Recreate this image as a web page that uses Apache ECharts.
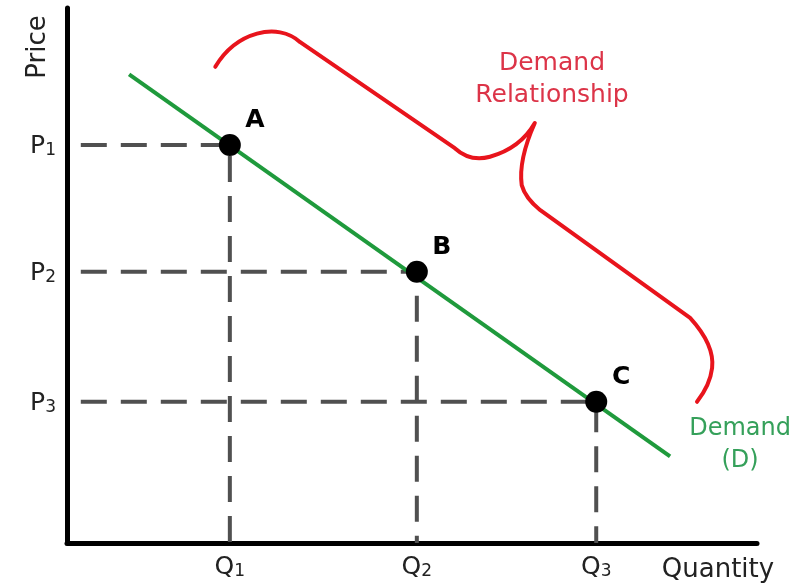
<!DOCTYPE html>
<html>
<head>
<meta charset="utf-8">
<script src="https://cdn.jsdelivr.net/npm/echarts@6/dist/echarts.min.js"></script>
<style>
  html, body { margin: 0; padding: 0; background: #fff; }
  #chart { width: 810px; height: 587px; }
</style>
</head>
<body>
<div id="chart"></div>
<script>
// 数据
const qNames = ['1', '2', '3'];
const qValues = [2.36, 5.07, 7.67];
const pNames = ['1', '2', '3'];
const pValues = [7.44, 5.07, 2.64];
const pointNames = ['A', 'B', 'C'];
const demandStart = [0.9, 8.76];
const demandEnd = [8.74, 1.62];

// 大括号 (数据坐标)
const brace = [
  ['M', 2.15, 8.90],
  ['C', 2.45, 9.55, 3.05, 9.75, 3.38, 9.36],
  ['L', 5.62, 7.38],
  ['Q', 5.84, 7.12, 6.13, 7.22],
  ['Q', 6.57, 7.38, 6.78, 7.85],
  ['Q', 6.54, 7.16, 6.59, 6.69],
  ['Q', 6.64, 6.45, 6.86, 6.22],
  ['L', 9.03, 4.21],
  ['Q', 9.39, 3.70, 9.35, 3.27],
  ['Q', 9.32, 2.95, 9.13, 2.64]
];

const font = 'DejaVu Sans';
const chart = echarts.init(document.getElementById('chart'));

const subRich = {
  m: { fontFamily: font, fontSize: 25, color: '#222', verticalAlign: 'bottom', lineHeight: 28 },
  s: { fontFamily: font, fontSize: 17, color: '#222', verticalAlign: 'bottom', lineHeight: 23 }
};

const guideSeries = qValues.map(function (q, i) {
  return {
    type: 'line',
    data: [[0.2, pValues[i]], [q, pValues[i]], [q, 0]],
    symbol: 'none',
    silent: true,
    lineStyle: { color: '#505050', width: 4, type: [26, 14] },
    z: 2
  };
});

const option = {
  animation: false,
  grid: { left: 67, right: 53, top: 8, bottom: 44, containLabel: false, outerBoundsMode: 'none' },
  xAxis: {
    type: 'value', min: 0, max: 10,
    splitLine: { show: false },
    axisTick: { show: false },
    axisLine: { lineStyle: { color: '#000', width: 5 } },
    axisLabel: {
      customValues: qValues,
      margin: 9,
      formatter: function (v) { return '{m|Q}{s|' + qNames[qValues.indexOf(v)] + '}'; },
      rich: subRich
    }
  },
  yAxis: {
    type: 'value', min: 0, max: 10,
    splitLine: { show: false },
    axisTick: { show: false },
    axisLine: { lineStyle: { color: '#000', width: 5 } },
    axisLabel: {
      customValues: pValues,
      margin: 11,
      formatter: function (v) { return '{m|P}{s|' + pNames[pValues.indexOf(v)] + '}'; },
      rich: subRich
    }
  },
  graphic: [
    {
      type: 'text', x: 38, y: 47, rotation: Math.PI / 2,
      style: { text: 'Price', font: '26px "DejaVu Sans"', fill: '#222', textAlign: 'center', textVerticalAlign: 'middle' }
    },
    {
      type: 'text', x: 718, y: 570,
      style: { text: 'Quantity', font: '26px "DejaVu Sans"', fill: '#222', textAlign: 'center', textVerticalAlign: 'middle' }
    },
    {
      type: 'text', x: 552, y: 79,
      style: { text: 'Demand\nRelationship', font: '25px "DejaVu Sans"', lineHeight: 32, fill: '#dc3448', textAlign: 'center', textVerticalAlign: 'middle' }
    }
  ],
  series: guideSeries.concat([
    {
      type: 'line',
      data: [demandStart, demandEnd],
      symbol: 'none',
      lineStyle: { color: '#1f9a3c', width: 4 },
      endLabel: {
        show: true,
        formatter: 'Demand\n(D)',
        align: 'center',
        offset: [62, -12],
        fontFamily: font,
        fontSize: 24,
        lineHeight: 32,
        color: '#35a05a'
      },
      z: 3
    },
    {
      type: 'scatter',
      data: qValues.map(function (q, i) { return { value: [q, pValues[i]], name: pointNames[i] }; }),
      symbolSize: 22,
      itemStyle: { color: '#000', opacity: 1 },
      label: {
        show: true,
        position: 'inside',
        offset: [25, -24],
        formatter: '{b}',
        fontFamily: font,
        fontWeight: 'bold',
        fontSize: 25,
        color: '#000',
        opacity: 1
      },
      z: 4
    },
    {
      type: 'custom',
      data: [[0, 0]],
      silent: true,
      renderItem: function (params, api) {
        let d = '';
        brace.forEach(function (c) {
          d += c[0];
          for (let k = 1; k < c.length; k += 2) {
            const p = api.coord([c[k], c[k + 1]]);
            d += ' ' + p[0].toFixed(1) + ' ' + p[1].toFixed(1);
          }
          d += ' ';
        });
        return {
          type: 'path',
          shape: { pathData: d },
          style: { stroke: '#e8141c', lineWidth: 4, fill: null, lineCap: 'round', lineJoin: 'round' }
        };
      },
      z: 5
    }
  ])
};

chart.setOption(option);
</script>
</body>
</html>
